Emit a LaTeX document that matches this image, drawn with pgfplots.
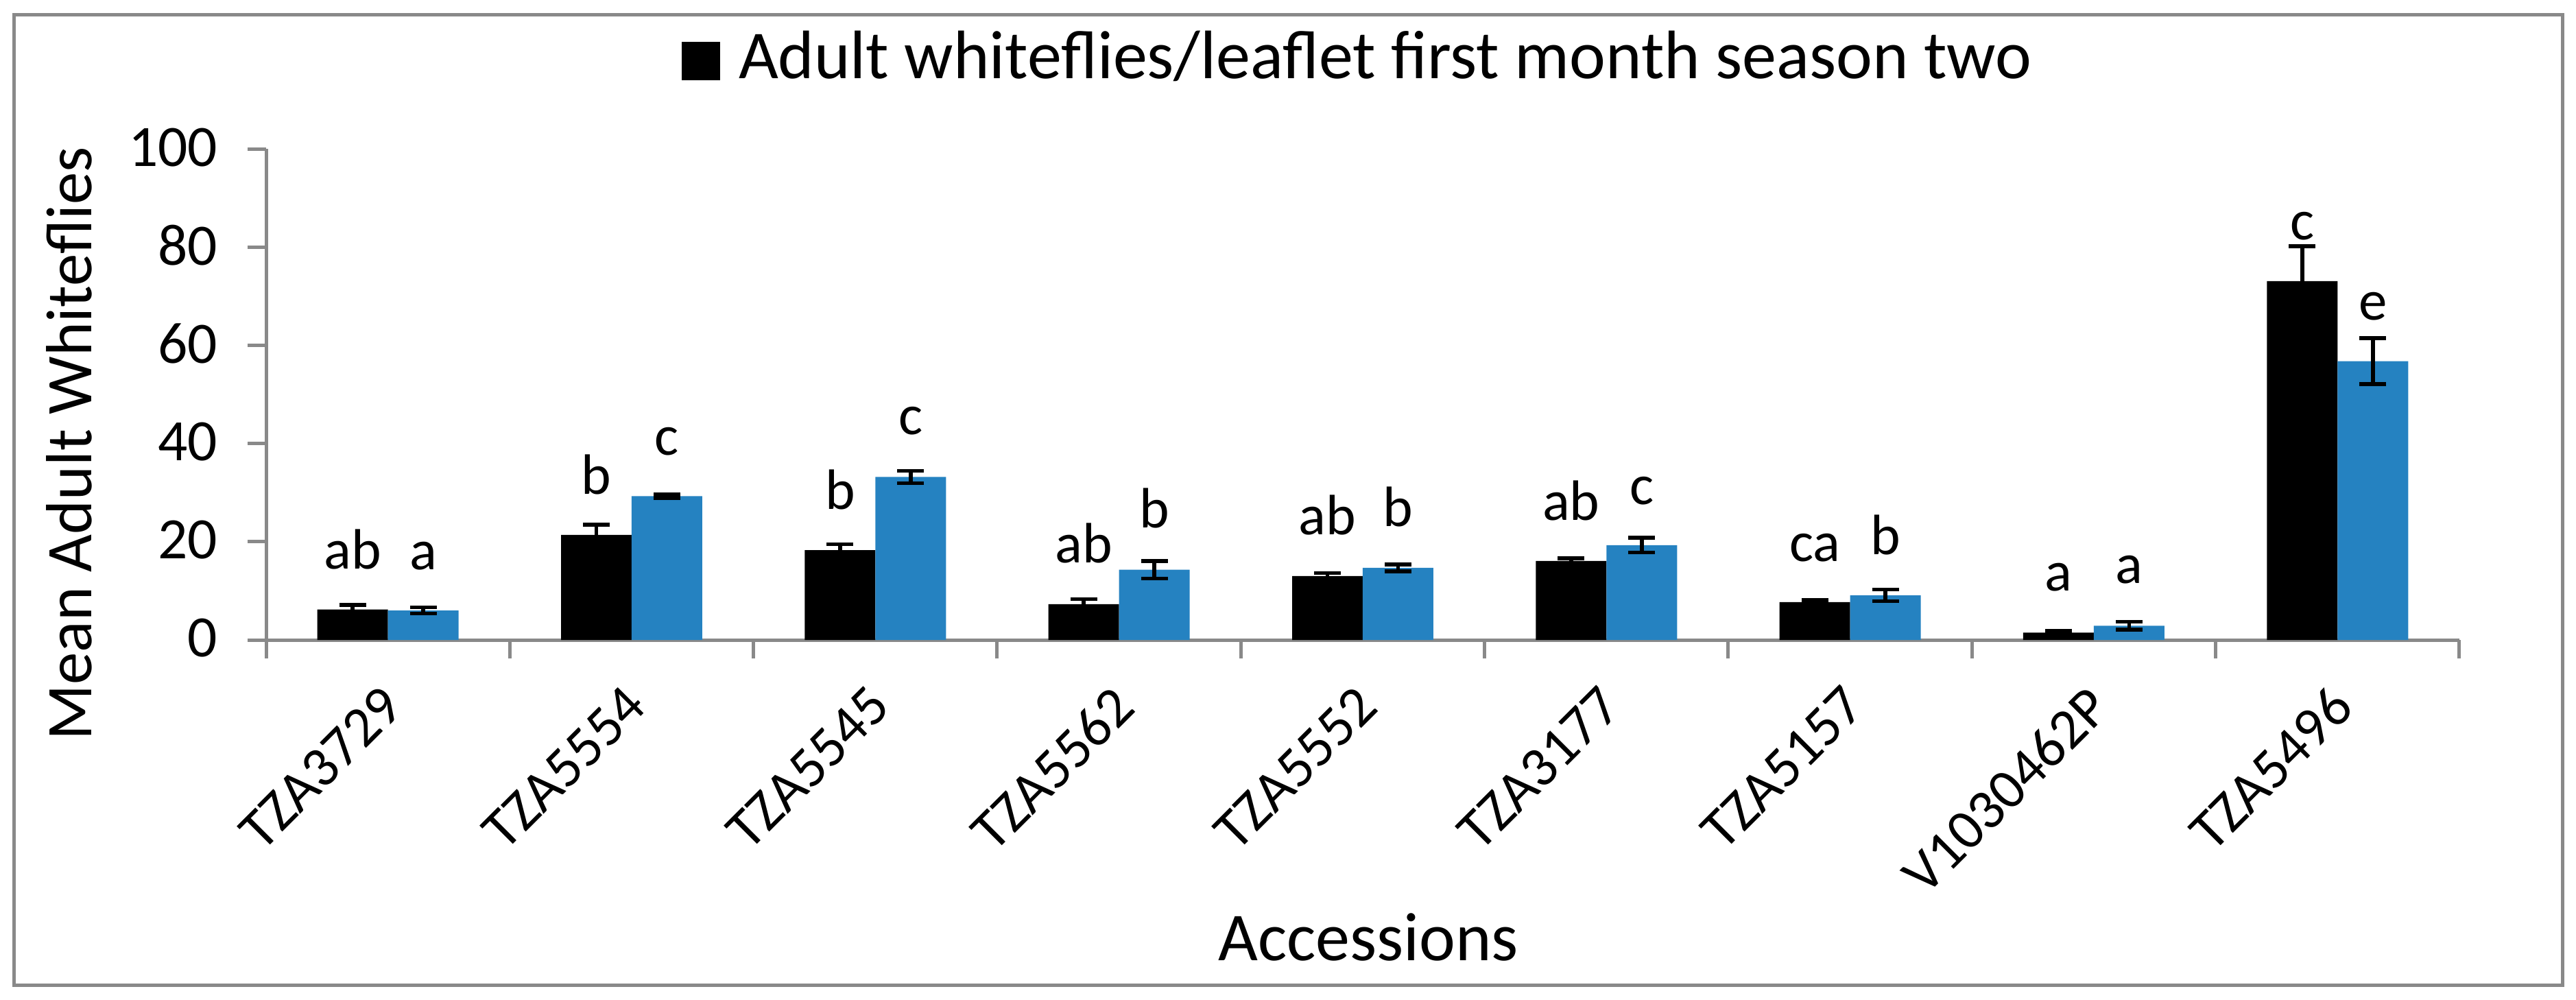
\documentclass[border=0pt]{standalone}
\usepackage{fontspec}
\setmainfont{Carlito}
\usepackage{pgfplots}
\usepackage{pgfplotstable}
\pgfplotsset{compat=1.18}
\definecolor{axisgray}{RGB}{137,137,137}
\definecolor{barblue}{RGB}{37,130,193}
\pgfplotstableread{
x y e
0 6.2 0.9
1 21.4 2.1
2 18.3 1.2
3 7.3 1.0
4 13.0 0.6
5 16.1 0.55
6 7.7 0.4
7 1.5 0.4
8 73.1 7.1
}\blackdata
\pgfplotstableread{
x y e
0 6.0 0.65
1 29.3 0.4
2 33.2 1.25
3 14.3 1.8
4 14.7 0.7
5 19.3 1.5
6 9.1 1.2
7 2.9 0.8
8 56.8 4.7
}\bluedata
\newcommand{\lf}{\fontsize{16.6bp}{19bp}\selectfont}
\def\off{0.1449}
\begin{document}
\begin{tikzpicture}
\useasboundingbox (0,0) rectangle (751.2bp,291.6bp);
\draw[axisgray, line width=1bp] (4bp,4.2bp) rectangle (747.2bp,287.2bp);
\begin{axis}[
  at={(77.6bp,105bp)}, anchor=south west,
  scale only axis, width=639.6bp, height=143.1bp,
  xmin=-0.5, xmax=8.5, ymin=0, ymax=100,
  clip=false,
  axis x line*=bottom, axis y line*=left,
  axis line style={draw=axisgray, line width=1bp},
  tick style={draw=axisgray, line width=1bp},
  tick align=outside, major tick length=5.4bp,
  xtick={-0.5,0.5,...,8.5}, xticklabels={},
  extra x ticks={0,1,...,8},
  extra x tick labels={TZA3729,TZA5554,TZA5545,TZA5562,TZA5552,TZA3177,TZA5157,V1030462P,TZA5496},
  extra x tick style={major tick length=0pt, tick label style={xshift=-2.6bp, yshift=-12.4bp, rotate=45, anchor=north east, inner sep=0pt, font=\lf}},
  ytick={0,20,...,100},
  yticklabel style={font=\fontsize{17.1bp}{20bp}\selectfont, inner sep=0pt, anchor=east, xshift=-8.6bp, yshift=0.5bp},
  /pgf/number format/assume math mode=true,
  xlabel={Accessions},
  ylabel={Mean Adult Whiteflies},
  every axis x label/.style={at={(axis description cs:0.5025,-0.6527)}, anchor=base, font=\fontsize{20bp}{24bp}\selectfont},
  every axis y label/.style={at={(axis description cs:-0.0897,0.3997)}, rotate=90, anchor=center, font=\fontsize{19bp}{23bp}\selectfont},
  legend style={at={(axis description cs:0.1892,1.187)}, anchor=west, draw=none, fill=none, inner sep=0pt, nodes={inner sep=0pt}, font=\fontsize{20bp}{24bp}\selectfont},
  legend image code/.code={\fill[black] (0bp,-6.7bp) rectangle (11.2bp,4.5bp); \path (16.6bp,0bp);},
]
\addplot[ybar, bar width=20.6bp, bar shift=0pt, fill=black, draw=none,
  error bars/.cd, y dir=both, y explicit, error mark=|,
  error bar style={draw=black, line width=1.1bp},
  error mark options={draw=black, line width=1.1bp, mark size=3.9bp}]
  table[x expr=\thisrow{x}-\off, y=y, y error=e] {\blackdata};
\addlegendentry{Adult whiteflies/leaflet first month season two}
\addplot[ybar, bar width=20.6bp, bar shift=0pt, fill=barblue, draw=none,
  error bars/.cd, y dir=both, y explicit, error mark=|,
  error bar style={draw=black, line width=1.1bp},
  error mark options={draw=black, line width=1.1bp, mark size=3.9bp}]
  table[x expr=\thisrow{x}+\off, y=y, y error=e] {\bluedata};
\node[anchor=base, font=\lf] at (axis cs:0-\off,14.5) {ab};
\node[anchor=base, font=\lf] at (axis cs:0+\off,14.3) {a};
\node[anchor=base, font=\lf] at (axis cs:1-\off,29.7) {b};
\node[anchor=base, font=\lf] at (axis cs:1+\off,37.7) {c};
\node[anchor=base, font=\lf] at (axis cs:2-\off,26.6) {b};
\node[anchor=base, font=\lf] at (axis cs:2+\off,41.8) {c};
\node[anchor=base, font=\lf] at (axis cs:3-\off,15.7) {ab};
\node[anchor=base, font=\lf] at (axis cs:3+\off,22.8) {b};
\node[anchor=base, font=\lf] at (axis cs:4-\off,21.4) {ab};
\node[anchor=base, font=\lf] at (axis cs:4+\off,23.2) {b};
\node[anchor=base, font=\lf] at (axis cs:5-\off,24.4) {ab};
\node[anchor=base, font=\lf] at (axis cs:5+\off,27.6) {c};
\node[anchor=base, font=\lf] at (axis cs:6-\off,16.0) {ca};
\node[anchor=base, font=\lf] at (axis cs:6+\off,17.4) {b};
\node[anchor=base, font=\lf] at (axis cs:7-\off,10.0) {a};
\node[anchor=base, font=\lf] at (axis cs:7+\off,11.5) {a};
\node[anchor=base, font=\lf] at (axis cs:8-\off,81.5) {c};
\node[anchor=base, font=\lf] at (axis cs:8+\off,65.2) {e};
\end{axis}
\end{tikzpicture}
\end{document}
